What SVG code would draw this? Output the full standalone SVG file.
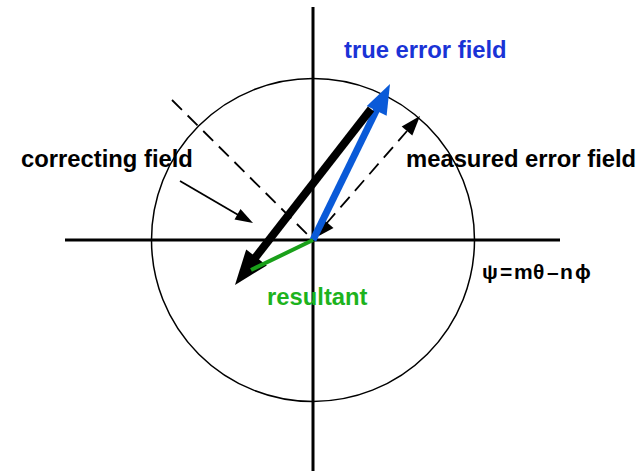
<svg xmlns="http://www.w3.org/2000/svg" width="643" height="471" viewBox="0 0 643 471">
<style>
.lbl{font-family:"Liberation Sans",Arial,sans-serif;font-weight:bold;font-size:23.8px}
.dash{fill:none;stroke:#000;stroke-width:1.8;stroke-dasharray:14 8}
.axis{stroke:#000;stroke-width:3}
</style>
<rect width="643" height="471" fill="#fff"/>
<g id="circle"><circle cx="313" cy="240" r="161.5" fill="none" stroke="#000" stroke-width="1.5"/></g>
<g id="axes">
<line class="axis" x1="65" y1="240" x2="560" y2="240"/>
<line class="axis" x1="313" y1="7" x2="313" y2="471"/>
</g>
<g id="connectors">
<line class="dash" x1="172" y1="100" x2="311" y2="238"/>
<line class="dash" x1="326" y1="224" x2="407" y2="131"/>
<polygon points="420,116 412.3,135.6 401.7,126.4" fill="#000"/>
<polygon points="315,238 333.5,228 323,219" fill="#000"/>
<line x1="180" y1="181" x2="240" y2="216" stroke="#000" stroke-width="1.8"/>
<polygon points="253,223 234.5,219.5 240.5,209" fill="#000"/>
<line x1="313" y1="240" x2="378" y2="107" stroke="#0a5ad8" stroke-width="7"/>
<polygon points="390,84 386.6,115.8 366.8,106" fill="#0a5ad8"/>
<line x1="371" y1="109" x2="255" y2="258" stroke="#000" stroke-width="8"/>
<polygon points="235,285 266.8,265.4 246.2,249.4" fill="#000"/>
<line x1="313" y1="240" x2="251" y2="270" stroke="#1aa01a" stroke-width="4"/>
</g>
<g id="labels">
<text class="lbl" x="344" y="58" fill="#1a33d6">true error field</text>
<text class="lbl" x="21" y="167" fill="#000">correcting field</text>
<text class="lbl" x="406" y="167" fill="#000">measured error field</text>
<text class="lbl" x="267" y="305" fill="#1db31d">resultant</text>
<text class="lbl" y="279" fill="#000" style="font-size:21px"><tspan x="482">ψ</tspan><tspan x="500">=</tspan><tspan x="514">m</tspan><tspan x="533">θ</tspan><tspan x="547">–</tspan><tspan x="560">n</tspan><tspan x="575">ϕ</tspan></text>
</g>
</svg>
